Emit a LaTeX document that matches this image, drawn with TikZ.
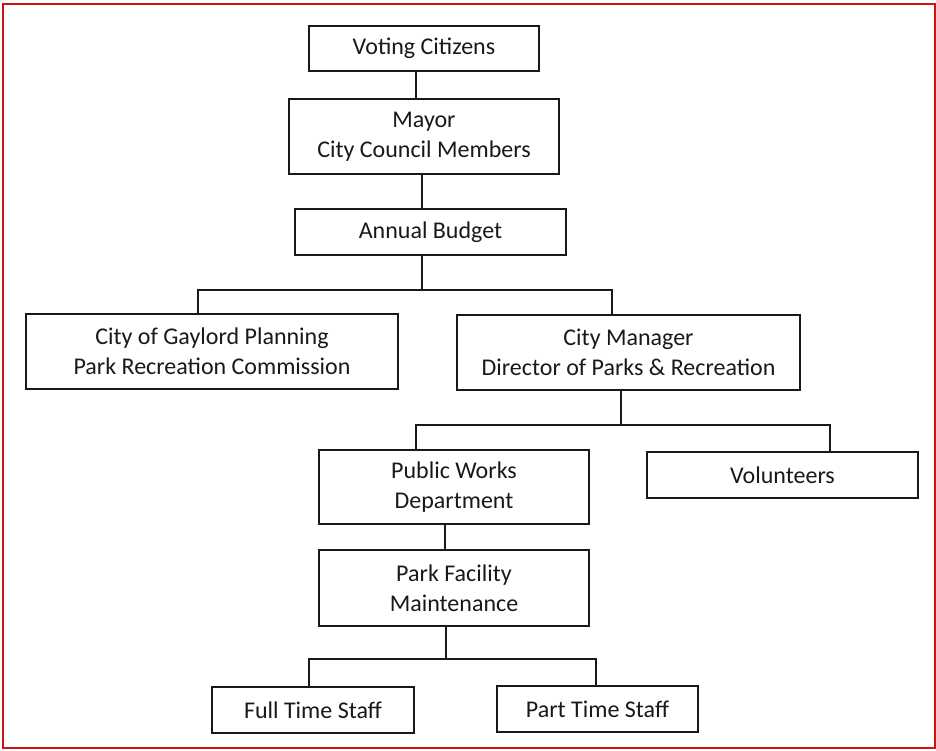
\documentclass[tikz,border=0pt]{standalone}
\usepackage{fontspec}
\setmainfont{Carlito}
\begin{document}
\begin{tikzpicture}[x=1pt,y=-1pt,
  box/.style={draw=black!90,line width=1.8pt,rectangle,inner sep=0pt,align=center,
    font=\fontsize{24}{30}\selectfont,text=black!90},
  conn/.style={draw=black!90,line width=1.8pt}]
\useasboundingbox (0,0) rectangle (936,750);
\draw[draw={rgb,255:red,205;green,20;blue,20},line width=2pt] (2.5,4) rectangle (934.5,748);
% nodes
\node[box,minimum width=230pt,minimum height=45pt] (vote) at (424,48.5) {Voting Citizens};
\node[box,minimum width=270pt,minimum height=75pt] (mayor) at (424,136.5) {Mayor\\City Council Members};
\node[box,minimum width=271pt,minimum height=46pt] (budget) at (430.5,232) {Annual Budget};
\node[box,minimum width=372pt,minimum height=75pt] (gay) at (212,351.5) {City of Gaylord Planning\\Park Recreation Commission};
\node[box,minimum width=343pt,minimum height=75pt] (cm) at (628.5,352.5) {City Manager\\Director of Parks \& Recreation};
\node[box,minimum width=271pt,minimum height=46pt] (vol) at (782.5,475) {Volunteers};
\node[box,minimum width=270pt,minimum height=74pt] (pw) at (454,487) {Public Works\\Department};
\node[box,minimum width=270pt,minimum height=76pt] (pf) at (454,588) {Park Facility\\Maintenance};
\node[box,line width=2.6pt,minimum width=202pt,minimum height=46pt] (ft) at (313,710) {Full Time Staff};
\node[box,minimum width=201pt,minimum height=46pt] (pt) at (597.5,709) {Part Time Staff};
% junction coordinates
\coordinate (c1) at (416,0);
\coordinate (c2) at (422,290);
\coordinate (c3) at (198,290);
\coordinate (c4) at (612,290);
\coordinate (c5) at (621,425);
\coordinate (c6) at (416,425);
\coordinate (c7) at (830,425);
\coordinate (c8) at (445,0);
\coordinate (c9) at (446,659);
\coordinate (c10) at (309,659);
\coordinate (c11) at (596,659);
% connectors
\draw[conn] (vote.south -| c1) -- (mayor.north -| c1);
\draw[conn] (mayor.south -| c2) -- (budget.north -| c2);
\draw[conn] (budget.south -| c2) -- (c2);
\draw[conn] (gay.north -| c3) -- (c3) -- (c4) -- (cm.north -| c4);
\draw[conn] (cm.south -| c5) -- (c5);
\draw[conn] (pw.north -| c6) -- (c6) -- (c7) -- (vol.north -| c7);
\draw[conn] (pw.south -| c8) -- (pf.north -| c8);
\draw[conn] (pf.south -| c9) -- (c9);
\draw[conn] (ft.north -| c10) -- (c10) -- (c11) -- (pt.north -| c11);
\end{tikzpicture}
\end{document}
